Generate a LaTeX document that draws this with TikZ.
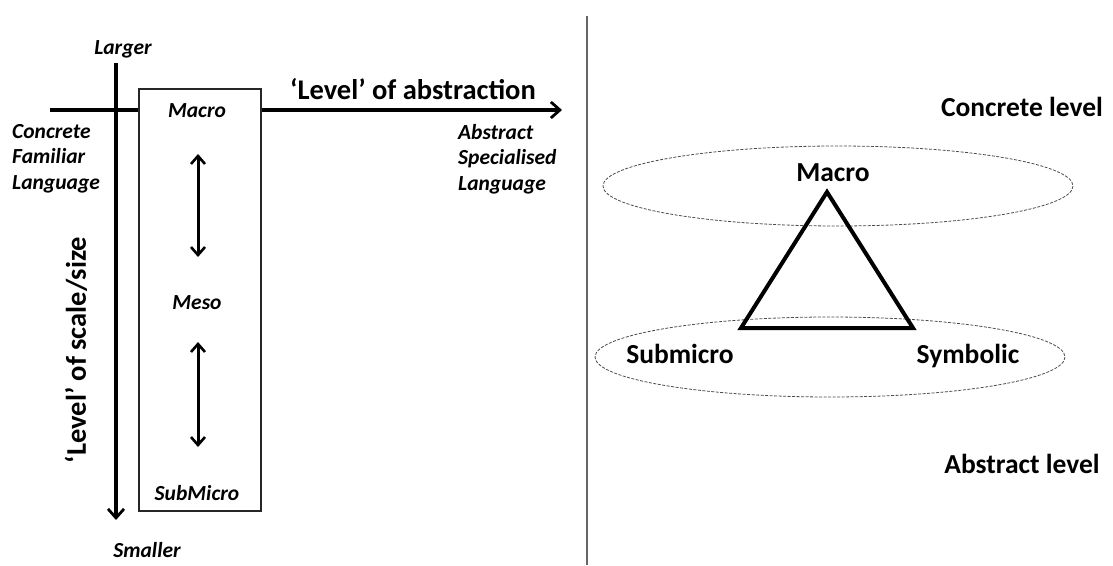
\documentclass[tikz,border=0pt]{standalone}
\usepackage{fontspec}
\setmainfont{Carlito}[BoldFont=Carlito Bold,ItalicFont=Carlito Italic,BoldItalicFont=Carlito Bold Italic]
\usetikzlibrary{arrows.meta}
\begin{document}
\begin{tikzpicture}[x=1pt,y=-1pt,
  axis/.style={line width=3.2pt,-{Straight Barb[length=9pt,width=16pt,line width=2.8pt]}},
  twoway/.style={line width=3pt,{Straight Barb[length=8pt,width=14pt,line width=2.6pt]}-{Straight Barb[length=8pt,width=14pt,line width=2.6pt]}},
  itlabel/.style={font=\fontsize{21.5}{25.5}\selectfont\bfseries\itshape,inner sep=0pt},
  itleft/.style={itlabel,align=left},
  biglabel/.style={font=\fontsize{27.5}{32}\selectfont\bfseries,inner sep=0pt},
  axislabel/.style={font=\fontsize{28.5}{32}\selectfont\bfseries,inner sep=0pt},
  levelring/.style={draw=black!70,line width=0.8pt,dash pattern=on 3pt off 1.5pt},
  levelbox/.style={draw=black!85,line width=1.5pt,fill=white}
]
\useasboundingbox (0,0) rectangle (1113,565);

% divider between the two panels
\draw[black!60,line width=1.6pt] (587,16) -- (587,565);

% ---- left panel: two axes ----
\coordinate (hstart) at (50,110);
\coordinate (hend) at (562,110);
\coordinate (vstart) at (116,63);
\coordinate (vend) at (116,520);
\draw[axis] (hstart) -- (hend);
\draw[axis] (vstart) -- (vend);

% column of levels
\node[levelbox,minimum width=122pt,minimum height=422pt,anchor=north west] (col) at (138,88) {};
\node[itlabel,anchor=base] (macroL) at (197,117) {Macro};
\node[itlabel,anchor=base] (mesoL) at (197,309) {Meso};
\node[itlabel,anchor=base] (subL) at (197,500) {SubMicro};
\coordinate (a1) at (198,154);
\coordinate (a2) at (198,257);
\coordinate (b1) at (198,342);
\coordinate (b2) at (198,447);
\draw[twoway] (a1) -- (a2);
\draw[twoway] (b1) -- (b2);

% axis labels
\node[itlabel,anchor=base] (larger) at (123,54) {Larger};
\node[itlabel,anchor=base] (smaller) at (147,557) {Smaller};
\node[itleft,anchor=north west] (concrete) at (12,124) {Concrete\\Familiar\\Language};
\node[itleft,anchor=north west] (abstract) at (458,124) {Abstract\\Specialised\\Language};
\node[axislabel,anchor=base] (habs) at (413,99) {‘Level’ of abstraction};
\node[axislabel,rotate=90] (vscale) at (76,350) {‘Level’ of scale/size};

% ---- right panel: the triangle of levels ----
\draw[levelring] (838,186) ellipse [x radius=235, y radius=40];
\draw[levelring] (830,357) ellipse [x radius=235, y radius=40];
\coordinate (apex) at (827,192);
\coordinate (left) at (741,328);
\coordinate (right) at (913,328);
\draw[line width=4pt,line join=miter] (apex) -- (left) -- (right) -- cycle;

\node[biglabel,anchor=base] (macroR) at (833,181) {Macro};
\node[biglabel,anchor=base] (submicro) at (680,363) {Submicro};
\node[biglabel,anchor=base] (symbolic) at (968,363) {Symbolic};
\node[biglabel,anchor=base] (conc) at (1022,116) {Concrete level};
\node[biglabel,anchor=base] (abst) at (1022,473) {Abstract level};
\end{tikzpicture}
\end{document}
